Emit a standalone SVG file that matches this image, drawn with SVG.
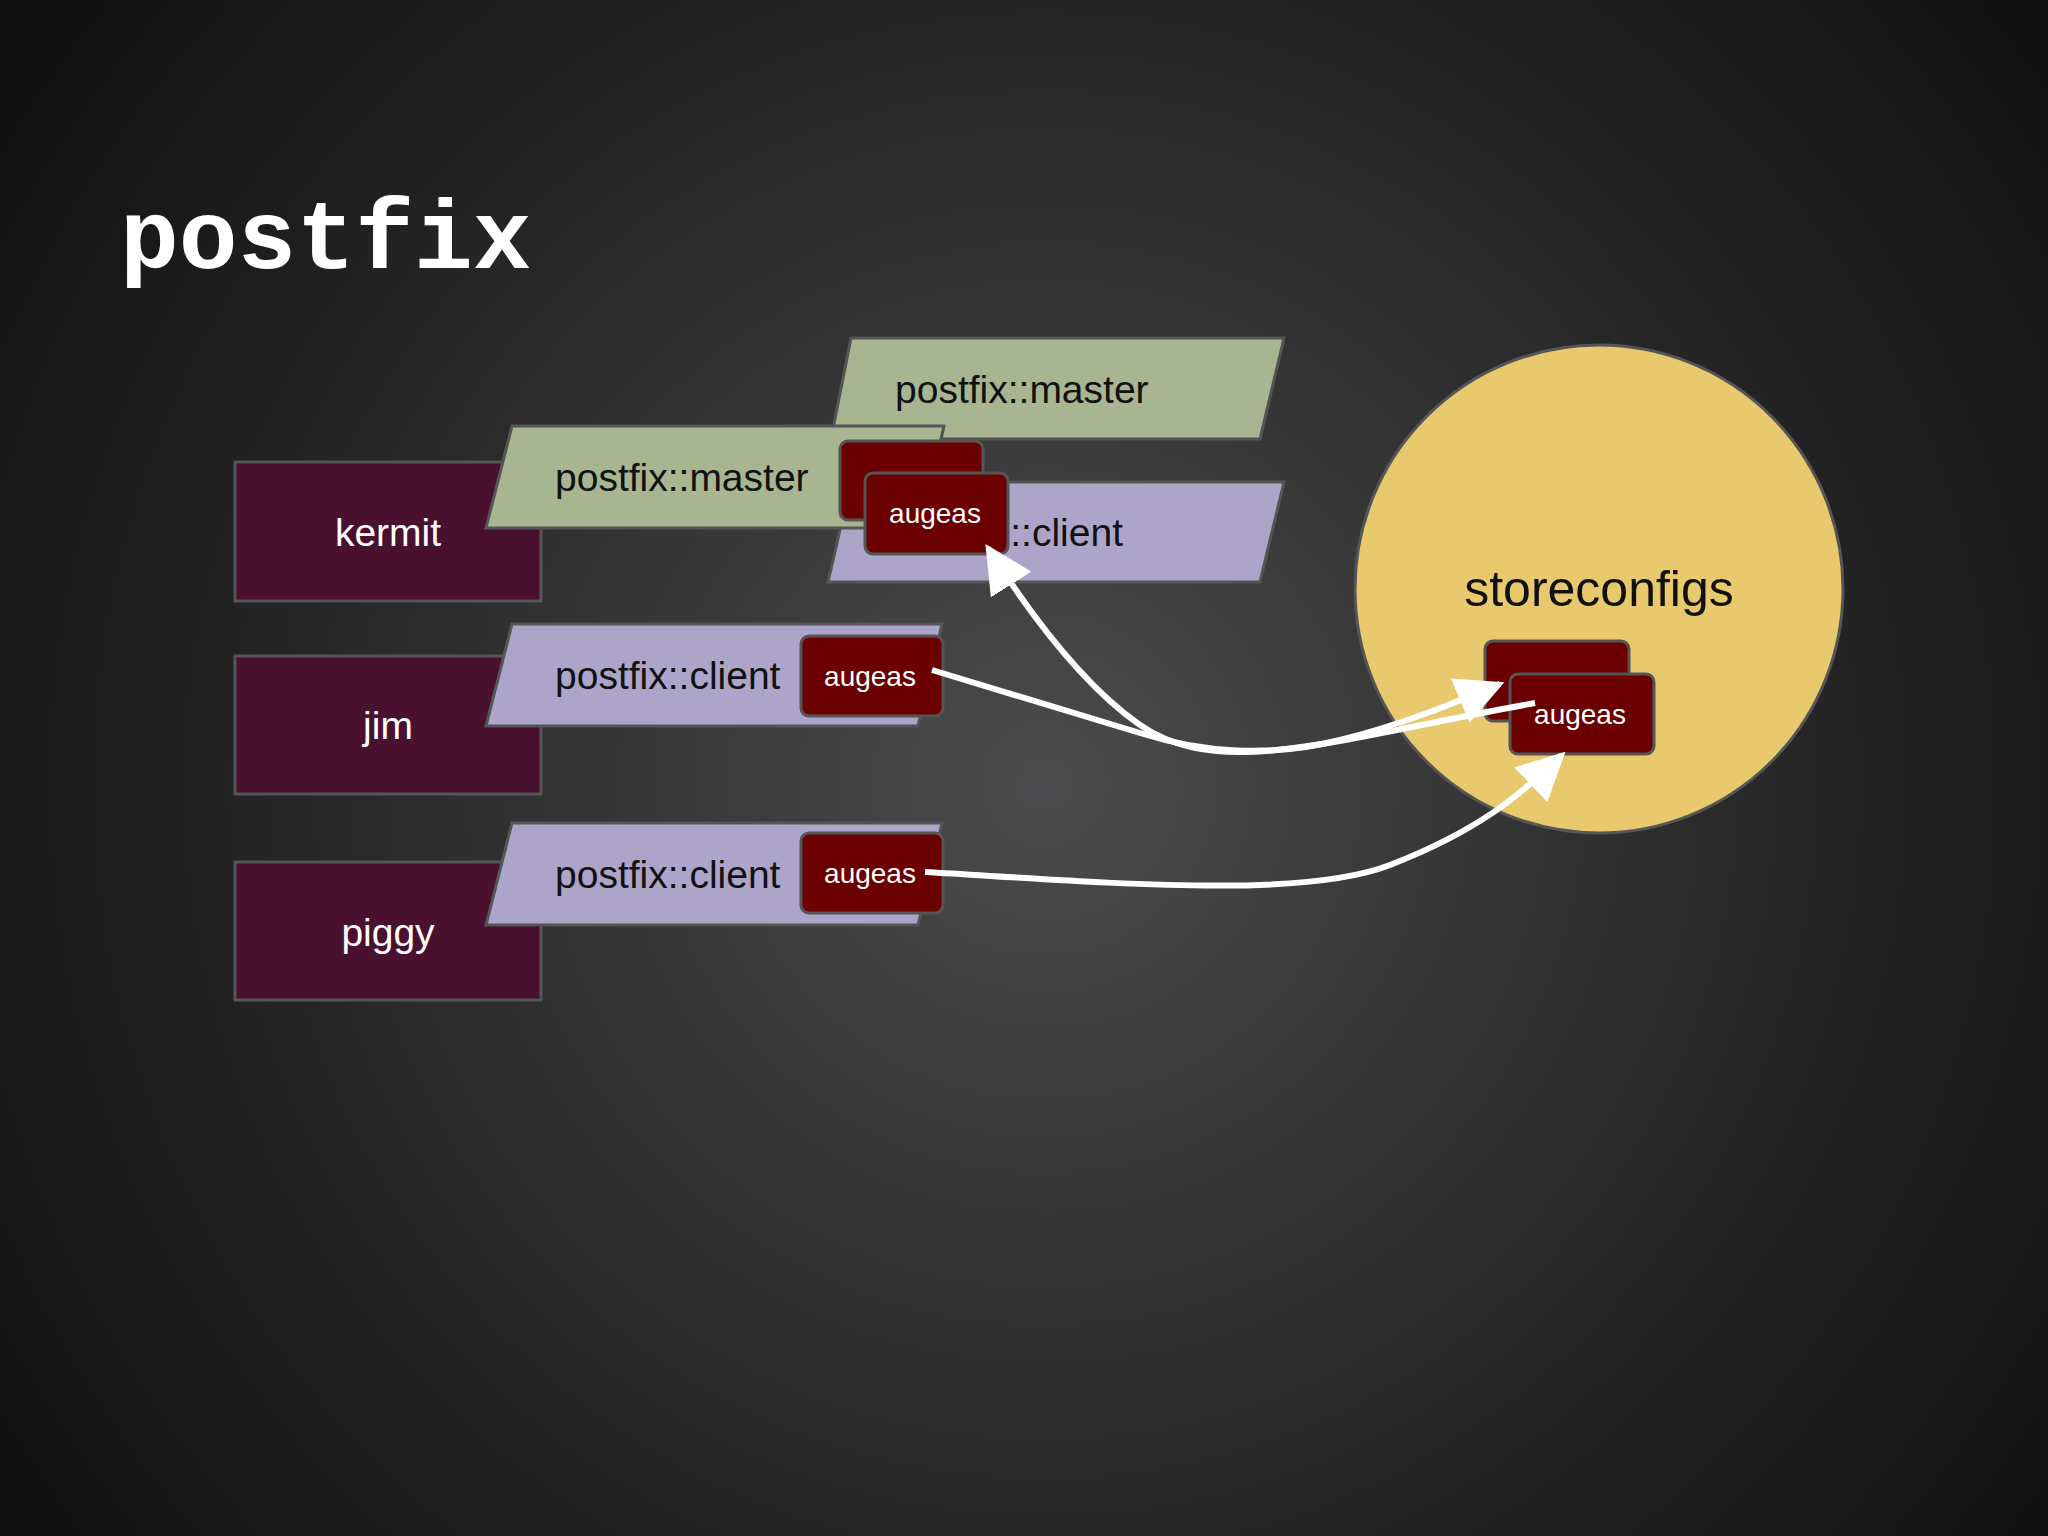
<svg xmlns="http://www.w3.org/2000/svg" width="2048" height="1536" viewBox="0 0 2048 1536">
<defs>
<radialGradient id="bg" cx="1045" cy="784" r="1250" gradientUnits="userSpaceOnUse">
<stop offset="0" stop-color="#4c4b4d"/><stop offset="0.6" stop-color="#262626"/><stop offset="1" stop-color="#111"/>
</radialGradient>
<marker id="ah" viewBox="0 0 10 10" refX="9" refY="5" markerWidth="8" markerHeight="8" markerUnits="strokeWidth" orient="auto">
<path d="M0,0 L10,5 L0,10 z" fill="#fff"/>
</marker>
<style>
.node{fill:#4a1030;stroke:#555;stroke-width:3}
.green{fill:#a7b591;stroke:#555;stroke-width:3}
.purple{fill:#ada5c9;stroke:#555;stroke-width:3}
.aug{fill:#6b0000;stroke:#555;stroke-width:3}
.lbl{font-family:"Liberation Sans",Arial,sans-serif;font-size:39px;fill:#fff;text-anchor:middle}
.dk{font-family:"Liberation Sans",Arial,sans-serif;font-size:39px;fill:#111}
.at{font-family:"Liberation Sans",Arial,sans-serif;font-size:28px;fill:#fff;text-anchor:middle}
.conn{fill:none;stroke:#fff;stroke-width:6;marker-end:url(#ah)}
</style>
</defs>
<rect width="2048" height="1536" fill="url(#bg)"/>
<text x="120" y="268" font-family="'Liberation Mono',monospace" font-weight="bold" font-size="98" fill="#fff">postfix</text>

<g id="kermit"><rect class="node" x="235" y="462" width="306" height="139"/><text class="lbl" x="388" y="546">kermit</text></g>
<g id="jim"><rect class="node" x="235" y="656" width="306" height="138"/><text class="lbl" x="388" y="739">jim</text></g>
<g id="piggy"><rect class="node" x="235" y="862" width="306" height="138"/><text class="lbl" x="388" y="946">piggy</text></g>

<g id="back-master"><polygon class="green" points="851,338 1284,338 1260,439 831,439"/><text class="dk" x="895" y="403">postfix::master</text></g>
<g id="back-client"><polygon class="purple" points="851,482 1284,482 1260,582 828,582"/><text class="dk" x="1123" y="546" text-anchor="end">::client</text></g>
<g id="kermit-master"><polygon class="green" points="512,426 944,426 921,528 486,528"/><text class="dk" x="555" y="491">postfix::master</text></g>
<g id="kermit-augeas-back"><rect class="aug" x="840" y="441" width="143" height="79" rx="8"/></g>
<g id="kermit-augeas"><rect class="aug" x="865" y="473" width="143" height="81" rx="8"/><text class="at" x="935" y="523">augeas</text></g>

<g id="jim-client"><polygon class="purple" points="512,624 942,624 918,726 486,726"/><text class="dk" x="555" y="689">postfix::client</text></g>
<g id="jim-augeas"><rect class="aug" x="801" y="636" width="142" height="80" rx="8"/><text class="at" x="870" y="686">augeas</text></g>
<g id="piggy-client"><polygon class="purple" points="512,823 942,823 918,925 486,925"/><text class="dk" x="555" y="888">postfix::client</text></g>
<g id="piggy-augeas"><rect class="aug" x="801" y="833" width="142" height="80" rx="8"/><text class="at" x="870" y="883">augeas</text></g>

<g id="storeconfigs"><circle cx="1599" cy="589" r="244" fill="#e8c96e" stroke="#555" stroke-width="3"/><text x="1599" y="606" font-family="'Liberation Sans',Arial,sans-serif" font-size="50" fill="#111" text-anchor="middle">storeconfigs</text>
<rect class="aug" x="1485" y="641" width="144" height="80" rx="8"/>
<rect class="aug" x="1510" y="674" width="144" height="80" rx="8"/><text class="at" x="1580" y="724">augeas</text></g>

<g id="connectors">
<path class="conn" d="M932,670 L1140,733 C1200,752 1270,758 1340,740 C1400,725 1450,705 1500,684"/>
<path class="conn" d="M1535,703 C1330,740 1220,780 1140,725 C1090,690 1040,630 988,548"/>
<path class="conn" d="M925,872 C1100,882 1300,900 1390,865 C1480,830 1520,795 1562,755"/>
</g>
</svg>
